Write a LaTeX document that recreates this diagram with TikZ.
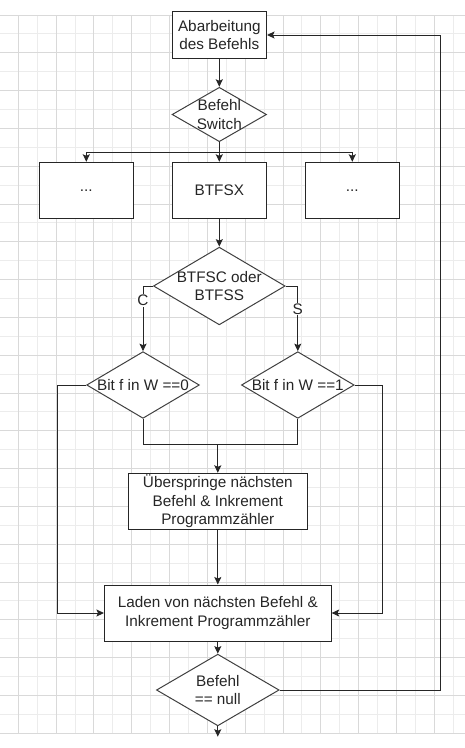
\documentclass[tikz,border=0pt]{standalone}
\usepackage{fontspec}
\setmainfont{Liberation Sans}
\usetikzlibrary{shapes.geometric,arrows.meta}
\tikzset{
  txt/.style={font=\fontsize{15.3}{18.4}\selectfont, text=black!85},
  box/.style={draw=black!85, fill=white, line width=1pt, align=center, inner sep=1pt, txt},
  dia/.style={diamond, draw=black!75, fill=white, line width=1pt, inner sep=0pt},
  arr/.style={draw=black!85, line width=1pt, -{Stealth[length=7.5pt,width=7pt,inset=1.5pt]}},
  lin/.style={draw=black!85, line width=1pt},
  gridA/.style={line width=1pt, color=gray!30},
  gridB/.style={line width=1pt, color=gray!15}
}
\begin{document}
\begin{tikzpicture}[x=1pt,y=-1pt]
\useasboundingbox (0,0) rectangle (465,748);
\foreach \i in {0,2,...,24} \draw[gridB] ({-0.6+18.91*\i},15) -- ({-0.6+18.91*\i},733.2);
\foreach \j in {1,3,...,37} \draw[gridB] (0,{15+18.9*\j}) -- (465,{15+18.9*\j});
\foreach \i in {1,3,...,23} \draw[gridA] ({-0.6+18.91*\i},15) -- ({-0.6+18.91*\i},733.2);
\foreach \j in {0,2,...,38} \draw[gridA] (0,{15+18.9*\j}) -- (465,{15+18.9*\j});

\node[box, minimum width=94.4pt, minimum height=46.7pt] (abarb) at (219.3,35) {Abarbeitung\\des Befehls};
\node[dia, minimum width=94.4pt, minimum height=54.4pt, label={[txt,align=center]center:Befehl\\Switch}] (sw) at (219.3,114.5) {};
\node[box, minimum width=94pt, minimum height=56pt] (dotsL) at (86.3,190.3) {...};
\node[box, minimum width=94pt, minimum height=56pt] (btfsx) at (219.3,190.3) {BTFSX};
\node[box, minimum width=94pt, minimum height=56pt] (dotsR) at (352.3,190.3) {...};
\node[dia, minimum width=131.7pt, minimum height=77.7pt, label={[txt,align=center]center:BTFSC oder\\BTFSS}] (cs) at (219.3,286) {};
\node[dia, minimum width=112.7pt, minimum height=66.7pt, label={[txt]center:Bit f in W ==0}] (d0) at (143,385) {};
\node[dia, minimum width=112.7pt, minimum height=66.7pt, label={[txt]center:Bit f in W ==1}] (d1) at (297.8,385) {};
\node[box, minimum width=179pt, minimum height=56pt] (skip) at (217.8,501.3) {Überspringe nächsten\\Befehl \& Inkrement\\Programmzähler};
\node[box, minimum width=226.7pt, minimum height=56pt] (load) at (217.8,613) {Laden von nächsten Befehl \&\\Inkrement Programmzähler};
\node[dia, minimum width=122.7pt, minimum height=71.7pt, label={[txt,align=center]center:Befehl\\== null}] (nul) at (217.8,690) {};

\coordinate (split) at (219.3,152.7);
\coordinate (join) at (217.8,444);
\coordinate (out) at (217.8,736.7);
\coordinate (back) at (440,35);

\draw[arr] (abarb) -- (sw);
\draw[lin] (sw) -- (split);
\draw[arr] (split) -- (btfsx);
\draw[arr] (split) -| (dotsL);
\draw[arr] (split) -| (dotsR);
\draw[arr] (btfsx) -- (cs);
\draw[arr] (cs.west) -| node[pos=0.612, fill=white, inner sep=1pt, txt]{C} (d0.north);
\draw[arr] (cs.east) -| node[pos=0.677, fill=white, inner sep=1pt, txt]{S} (d1.north);
\draw[lin] (d0.south) |- (join);
\draw[lin] (d1.south) |- (join);
\draw[arr] (join) -- (skip);
\draw[arr] (skip) -- (load);
\draw[arr] (d0.west) -- ++(-28.4,0) |- (load.west);
\draw[arr] (d1.east) -- ++(28.2,0) |- (load.east);
\draw[arr] (load) -- (nul);
\draw[arr] (nul) -- (out);
\draw[arr] (nul.east) -| (back) -- (abarb.east);
\end{tikzpicture}
\end{document}
